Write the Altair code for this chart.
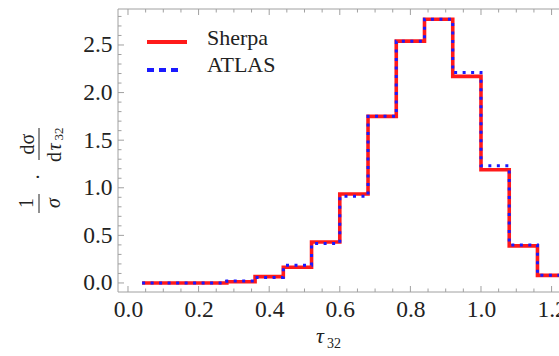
import altair as alt
import pandas as pd

# ---- data ----
bin_edges = [0.04, 0.12, 0.20, 0.28, 0.36, 0.44, 0.52, 0.60, 0.68, 0.76,
             0.84, 0.92, 1.00, 1.08, 1.16, 1.24]
sherpa = [0.0, 0.0, 0.0, 0.012, 0.066, 0.165, 0.43, 0.935, 1.75, 2.54,
          2.77, 2.17, 1.19, 0.39, 0.08]
atlas = [0.0, 0.0, 0.0, 0.02, 0.058, 0.185, 0.415, 0.91, 1.75, 2.54,
         2.77, 2.21, 1.23, 0.40, 0.08]
x_labels = [0.0, 0.2, 0.4, 0.6, 0.8, 1.0, 1.2]
y_labels = [0.0, 0.5, 1.0, 1.5, 2.0, 2.5]
x_minor = [round(0.05 * i, 2) for i in range(25)]
y_minor = [round(0.1 * i, 1) for i in range(29)]

W, H = 441, 283
FONT = "Liberation Serif"
FRAME = "#a0a0a0"


def steps(vals, name):
    rows = [{"x": e, "y": v, "series": name} for e, v in zip(bin_edges, vals)]
    rows.append({"x": bin_edges[-1], "y": vals[-1], "series": name})
    return pd.DataFrame(rows)


xs = alt.Scale(domain=[-0.0283, 1.221], nice=False, zero=False)
ys = alt.Scale(domain=[-0.095, 2.878], nice=False, zero=False)

x_axis = alt.Axis(values=x_labels, format=".1f", ticks=False, domain=False, grid=False,
                  labelFont=FONT, labelFontSize=23.5, labelColor="#222222",
                  labelPadding=5, title=None, labelOverlap=False, labelFlush=False)
y_axis = alt.Axis(values=y_labels, format=".1f", ticks=False, domain=False, grid=False,
                  labelFont=FONT, labelFontSize=23.5, labelColor="#222222",
                  labelPadding=6, title=None, labelOverlap=False, labelFlush=False)

X = lambda f: alt.X(f, scale=xs, axis=x_axis)
Y = lambda f: alt.Y(f, scale=ys, axis=y_axis)

red = alt.Chart(steps(sherpa, "Sherpa")).mark_line(
    interpolate="step-after", color="#ff1a1a", strokeWidth=3.6, clip=True
).encode(x=X("x:Q"), y=Y("y:Q"))

blue = alt.Chart(steps(atlas, "ATLAS")).mark_line(
    interpolate="step-after", color="#1a1aff", strokeWidth=3.0,
    strokeDash=[3, 5.5], strokeCap="butt", clip=True
).encode(x=X("x:Q"), y=Y("y:Q"))

one = pd.DataFrame({"a": [0]})

# frame
frame = [
    alt.Chart(one).mark_rule(color=FRAME, strokeWidth=1).encode(
        x=alt.value(0), y=alt.value(0), y2=alt.value(H)),
    alt.Chart(one).mark_rule(color=FRAME, strokeWidth=1).encode(
        x=alt.value(0), x2=alt.value(W), y=alt.value(0)),
    alt.Chart(one).mark_rule(color=FRAME, strokeWidth=1).encode(
        x=alt.value(0), x2=alt.value(W), y=alt.value(H)),
]

# ticks
xmin_df = pd.DataFrame({"x": [v for v in x_minor if round(v / 0.2, 6) % 1 != 0]})
xmaj_df = pd.DataFrame({"x": x_labels})
ymin_df = pd.DataFrame({"y": [v for v in y_minor if round(v / 0.5, 6) % 1 != 0]})
ymaj_df = pd.DataFrame({"y": y_labels})


def xt(df, y0, y1):
    return alt.Chart(df).mark_rule(color=FRAME, strokeWidth=1).encode(
        x=X("x:Q"), y=alt.value(y0), y2=alt.value(y1))


def yt(df, x0, x1):
    return alt.Chart(df).mark_rule(color=FRAME, strokeWidth=1).encode(
        y=Y("y:Q"), x=alt.value(x0), x2=alt.value(x1))


ticks = [
    xt(xmin_df, H, H - 3.5), xt(xmaj_df, H, H - 6),
    xt(xmin_df, 0, 3.5), xt(xmaj_df, 0, 6),
    yt(ymin_df, 0, 3.5), yt(ymaj_df, 0, 6),
]


def txt(s, x, y, size=22, style="normal", angle=0, align="left", baseline="alphabetic"):
    return alt.Chart(one).mark_text(
        text=s, font=FONT, fontSize=size, fontStyle=style, angle=angle,
        align=align, baseline=baseline, color="#222222"
    ).encode(x=alt.value(x), y=alt.value(y))


# legend
legend = [
    alt.Chart(one).mark_rule(color="#ff1a1a", strokeWidth=4).encode(
        x=alt.value(29), x2=alt.value(69), y=alt.value(33)),
    alt.Chart(one).mark_rule(color="#1a1aff", strokeWidth=4, strokeDash=[7, 5]).encode(
        x=alt.value(29), x2=alt.value(60), y=alt.value(61)),
    txt("Sherpa", 89, 36),
    txt("ATLAS", 89, 63),
]

# axis titles
titles = [
    # x: tau_32
    txt("τ", 202, 334, size=22, style="italic", align="center"),
    txt("32", 209, 339, size=14, align="left"),
    # y: 1/sigma . dsigma/dtau32 (rotated)
    txt("1", -91, 194, size=20, angle=270, align="center", baseline="middle"),
    alt.Chart(one).mark_rule(color="#222222", strokeWidth=1).encode(
        x=alt.value(-79), y=alt.value(185), y2=alt.value(204)),
    txt("σ", -64, 194, size=20, style="italic", angle=270, align="center", baseline="middle"),
    txt("·", -79, 168, size=20, angle=270, align="center", baseline="middle"),
    txt("dσ", -90, 135, size=20, angle=270, align="center", baseline="middle"),
    alt.Chart(one).mark_rule(color="#222222", strokeWidth=1).encode(
        x=alt.value(-79), y=alt.value(119), y2=alt.value(151)),
    txt("d", -63, 148, size=20, angle=270, align="center", baseline="middle"),
    txt("τ", -63, 138, size=20, style="italic", angle=270, align="center", baseline="middle"),
    txt("32", -59, 125, size=13, angle=270, align="center", baseline="middle"),
]

chart = alt.layer(red, blue, *frame, *ticks, *legend, *titles).properties(
    width=W, height=H,
    autosize=alt.AutoSizeParams(type="none"),
    padding={"left": 118, "top": 9, "right": 0, "bottom": 60},
).configure_view(stroke="transparent").configure_axis(
    labelFont=FONT, labelFontSize=23.5, labelColor="#222222"
)

chart.save("out.html", embed_options={"renderer": "svg", "actions": False})
